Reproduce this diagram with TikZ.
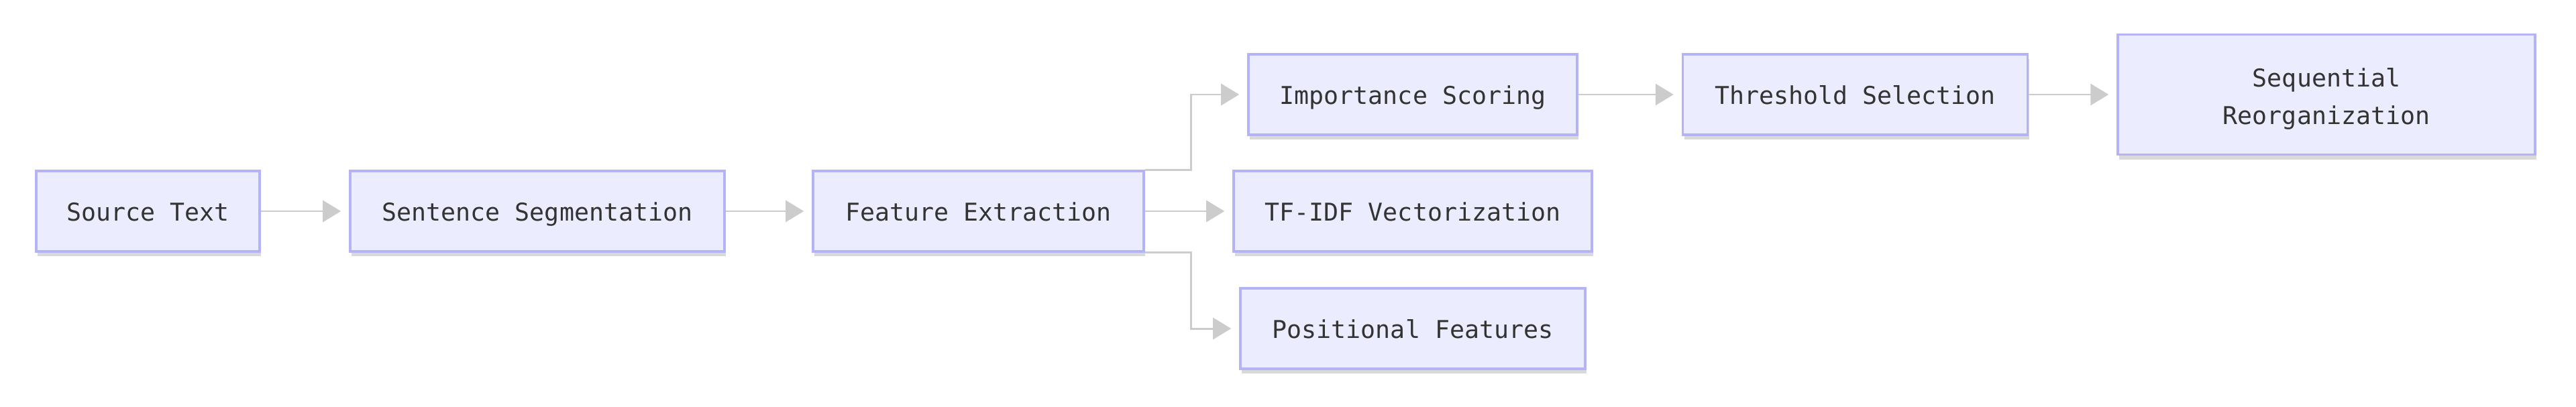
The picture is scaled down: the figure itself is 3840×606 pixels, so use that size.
\documentclass[tikz,border=0pt]{standalone}
\usepackage{fontspec}
\newfontfamily\boxfont{DejaVu Sans Mono}
\usetikzlibrary{arrows.meta,shadows}
\definecolor{boxfill}{HTML}{ECECFF}
\definecolor{boxline}{HTML}{B3B3F5}
\definecolor{edgecol}{HTML}{CCCCCC}
\definecolor{txtcol}{HTML}{333333}
\tikzset{
  procbox/.style={draw=boxline, fill=boxfill, line width=1pt, inner sep=0pt,
    minimum height=120*0.01cm, text=txtcol,
    font=\boxfont\fontsize{10.4}{15.9}\selectfont,
    drop shadow={shadow xshift=0.02cm, shadow yshift=-0.07cm, opacity=0.15, fill=black}},
  oneline/.style={procbox, text height=9pt, text depth=0.8pt},
  twoline/.style={procbox, align=center},
  boxtext/.style={inner sep=0pt, text=txtcol, align=center,
    font=\boxfont\fontsize{10.4}{15.9}\selectfont},
  flow/.style={draw=edgecol, line width=0.85pt,
    -{Triangle[length=0.27cm, width=0.32cm, fill=edgecol]}, shorten >=0.12cm}
}
\begin{document}
\begin{tikzpicture}[x=0.01cm,y=-0.01cm]
\useasboundingbox[fill=white] (0,0) rectangle (3840,606);
\node[oneline, minimum width=333*0.01cm] (src) at (220.5,315) {Source Text};
\node[oneline, minimum width=558*0.01cm] (seg) at (801,315) {Sentence Segmentation};
\node[oneline, minimum width=493*0.01cm] (fe) at (1458.5,315) {Feature Extraction};
\node[oneline, minimum width=490*0.01cm] (imp) at (2106,141) {Importance Scoring};
\node[oneline, minimum width=534*0.01cm] (tfidf) at (2106,315) {TF-IDF Vectorization};
\node[oneline, minimum width=514*0.01cm] (pos) at (2106,490) {Positional Features};
\node[oneline, minimum width=514*0.01cm] (thr) at (2765.5,141) {Threshold Selection};
\node[twoline, minimum width=622*0.01cm, minimum height=179*0.01cm] (seq) at (3468,141) {};
\node[boxtext] (seqtext) at (3468,147) {Sequential\\Reorganization};
\draw[flow] (src) -- (seg);
\draw[flow] (seg) -- (fe);
\draw[flow] (fe.north east) -- ++(69,0) |- (imp.west);
\draw[flow] (fe) -- (tfidf);
\draw[flow] (fe.south east) -- ++(69,0) |- (pos.west);
\draw[flow] (imp) -- (thr);
\draw[flow] (thr) -- (seq);
\end{tikzpicture}
\end{document}
